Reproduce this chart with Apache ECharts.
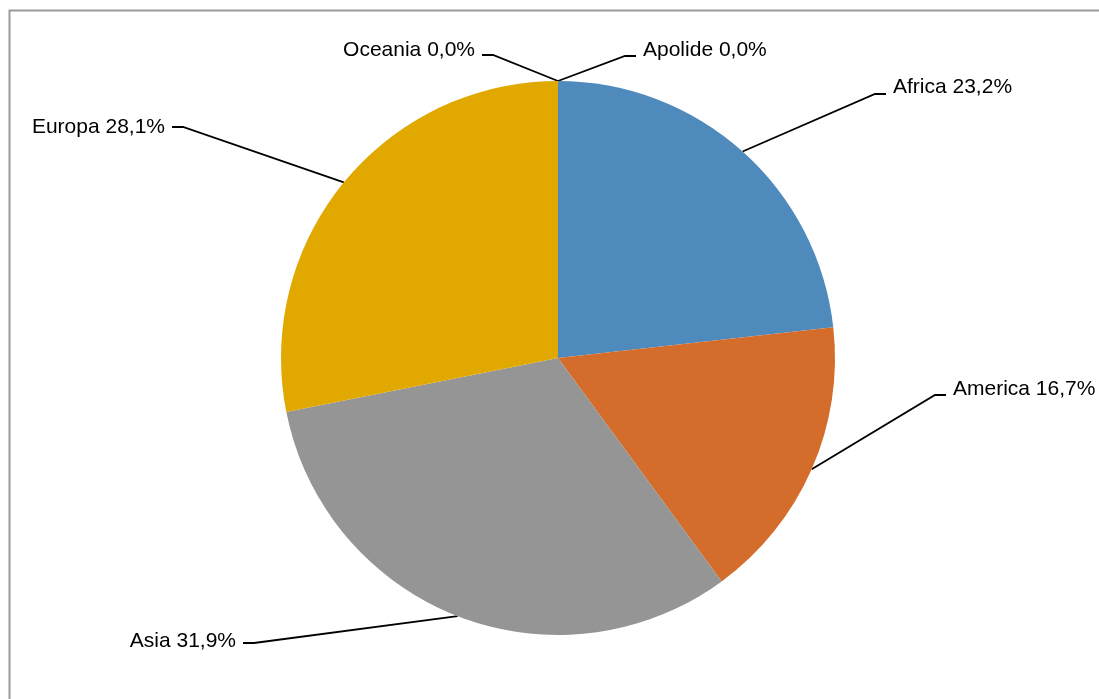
<!DOCTYPE html>
<html>
<head>
<meta charset="utf-8">
<script src="https://cdn.jsdelivr.net/npm/echarts@6/dist/echarts.min.js"></script>
<style>
html,body{margin:0;padding:0;background:#fff;}
#chart{width:1099px;height:699px;}
</style>
</head>
<body>
<div id="chart"></div>
<script>
// Data (clockwise from 12 o'clock)
const categories = ['Apolide', 'Africa', 'America', 'Asia', 'Europa', 'Oceania'];
const values = [0.0, 23.2, 16.7, 31.9, 28.1, 0.0];
const colors = ['#4f8abd', '#4f8abd', '#d46c2b', '#959595', '#e1a900', '#e1a900'];

// Label placement (layout only)
const labelPlace = [
  { x: 643, y: 50, ly: 56, align: 'left' },
  { x: 893, y: 87, ly: 94, align: 'left' },
  { x: 953, y: 389, ly: 395, align: 'left' },
  { x: 236, y: 641, ly: 643, align: 'right' },
  { x: 165, y: 127, ly: 127, align: 'right' },
  { x: 475, y: 50, ly: 55, align: 'right' }
];

const chart = echarts.init(document.getElementById('chart'), null, { renderer: 'canvas' });

const pieData = categories.map((c, i) => ({
  name: c,
  value: values[i],
  itemStyle: { color: colors[i] }
}));

const option = {
  animation: false,
  backgroundColor: '#ffffff',
  graphic: [{
    type: 'rect',
    left: 7, top: 8,
    shape: { width: 1200, height: 800 },
    style: { fill: 'none', stroke: '#9a9a9a', lineWidth: 2 },
    silent: true
  }],
  series: [{
    type: 'pie',
    center: [558, 358],
    radius: 277,
    startAngle: 90,
    clockwise: true,
    avoidLabelOverlap: false,
    minShowLabelAngle: 0,
    itemStyle: { borderWidth: 0 },
    emphasis: { disabled: true },
    label: {
      show: true,
      position: 'outside',
      color: '#000',
      fontFamily: 'Liberation Sans, Arial, sans-serif',
      fontSize: 21,
      formatter: p => p.name + ' ' + p.value.toFixed(1).replace('.', ',') + '%'
    },
    labelLine: {
      show: true,
      length: 20,
      length2: 10,
      lineStyle: { color: '#000', width: 1.8 }
    },
    labelLayout: function (params) {
      const lp = labelPlace[params.dataIndex];
      const pts = params.labelLinePoints;
      const dir = lp.align === 'left' ? -1 : 1;
      const start = pts ? pts[0] : [558, 81];
      return {
        x: lp.x,
        y: lp.y,
        align: lp.align,
        verticalAlign: 'middle',
        labelLinePoints: [
          start,
          [lp.x + dir * 18, lp.ly],
          [lp.x + dir * 7, lp.ly]
        ]
      };
    },
    data: pieData
  }]
};

chart.setOption(option);
</script>
</body>
</html>
